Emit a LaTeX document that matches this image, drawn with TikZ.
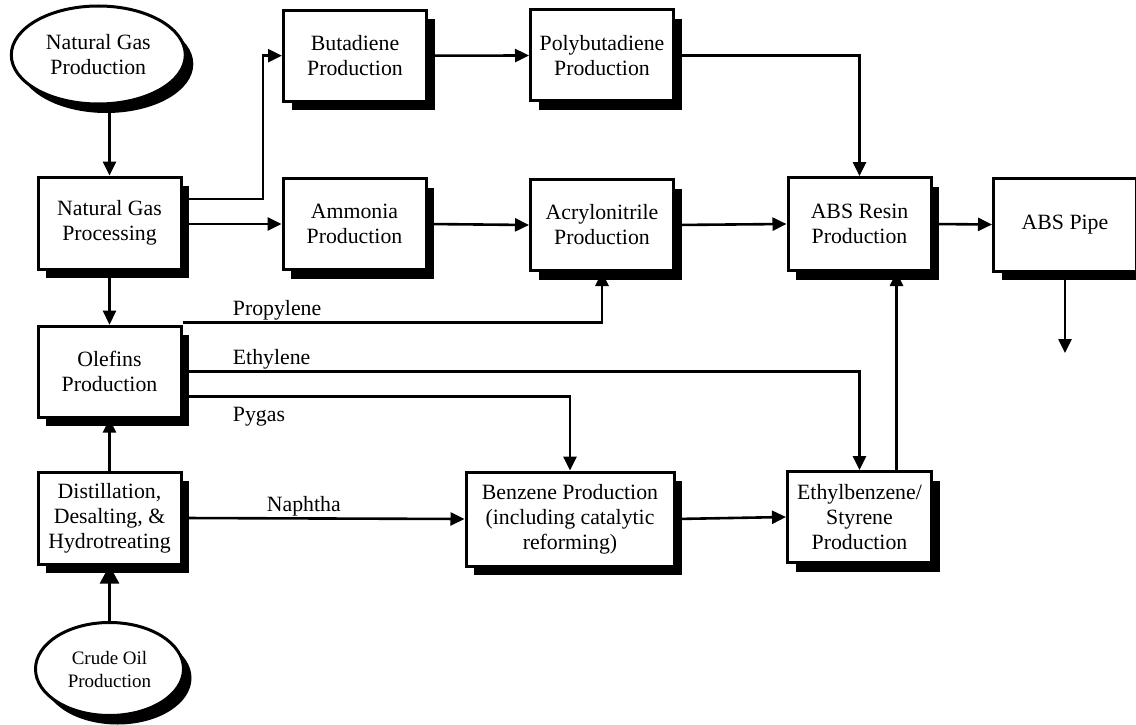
\documentclass[tikz,border=0pt]{standalone}
\usepackage{fontspec}
\setmainfont{Liberation Serif}
\usetikzlibrary{shapes.geometric,shadows,arrows.meta}
\newcommand{\mainf}{\fontsize{21.8}{25}\selectfont}
\newcommand{\smallf}{\fontsize{19}{23}\selectfont}
\begin{document}
\begin{tikzpicture}[x=1pt,y=-1pt,
  shad/.style={drop shadow={shadow xshift=8pt, shadow yshift=-9pt, opacity=1, fill=black}},
  box/.style={draw, line width=3pt, fill=white, minimum width=143pt, minimum height=92pt,
    inner sep=2pt, align=center, font=\mainf, shad},
  oval/.style={ellipse, draw, line width=3pt, fill=white, inner sep=0pt, align=center, shad},
  lbl/.style={font=\mainf, inner sep=0pt, anchor=base west},
  arr/.style={line width=2.6pt, -{Triangle[length=14pt,width=13pt]}},
  bigarr/.style={line width=2.6pt, -{Triangle[length=18pt,width=19pt]}}]
\fill[white] (0,0) rectangle (1136,725);
\useasboundingbox (0,0) rectangle (1136,725);
\clip (0,0) rectangle (1136,725);

% nodes
\node[oval, minimum width=174pt, minimum height=98pt, font=\mainf] (ngprod) at (98.3,55) {Natural Gas\\Production};
\node[box] (ngp) at (109.5,223) {Natural Gas\\Processing};
\node[box, minimum height=91pt] (olef) at (109.5,371.7) {Olefins\\Production};
\node[box] (dist) at (109.5,518) {Distillation,\\Desalting, \&\\Hydrotreating};
\node[oval, minimum width=148pt, minimum height=93pt, font=\smallf] (crude) at (109.5,669) {Crude Oil\\Production};

\node[box, minimum height=91pt] (buta) at (355,55.7) {Butadiene\\Production};
\node[box, minimum height=91pt] (poly) at (602,55.5) {Polybutadiene\\Production};
\node[box, minimum height=91pt] (amm) at (354.5,224) {Ammonia\\Production};
\node[box, minimum height=91pt] (acry) at (602,225) {Acrylonitrile\\Production};
\node[box, minimum height=93pt] (absr) at (859.5,224) {ABS Resin\\Production};
\node[box, minimum height=93pt] (pipe) at (1065,224.5) {ABS Pipe};
\node[box, minimum width=208pt, minimum height=94pt] (benz) at (570,519) {Benzene Production\\(including catalytic\\reforming)};
\node[box, minimum width=144pt, minimum height=91pt] (ethyl) at (859.5,517) {Ethylbenzene/\\Styrene\\Production};

% labels
\node[lbl] (lprop) at (232.7,315) {Propylene};
\node[lbl] (leth) at (232.7,364) {Ethylene};
\node[lbl] (lpyg) at (232.7,421) {Pygas};
\node[lbl] (lnap) at (266.7,511) {Naphtha};

\coordinate (pipeout) at (1065,353);

% connectors
\draw[arr] (ngprod.south -| ngp.north) -- (ngp.north);
\draw[arr] ([yshift=24pt]ngp.east) -- ++(80.5,0) |- (buta.west);
\draw[arr] (ngp.east |- amm.west) -- (amm.west);
\draw[arr] (buta.east) -- (poly.west);
\draw[arr] (amm.east) -- (acry.west);
\draw[arr] (poly.east) -| (absr.north);
\draw[arr] (acry.east) -- (absr.west);
\draw[arr] (absr.east) -- (pipe.west);
\draw[arr] (pipe.south) -- (pipeout);
\draw[arr] (ngp.south) -- (olef.north);
\draw[arr] (dist.north) -- (olef.south);
\draw[bigarr] (crude.north) -- (dist.south);
\draw[arr] ([yshift=2pt]olef.north east) -| (acry.south);
\draw[arr] (olef.east) -| (ethyl.north);
\draw[arr] ([yshift=-25pt]olef.east) -| (benz.north);
\draw[arr] (dist.east) -- (benz.west);
\draw[arr] (benz.east) -- (ethyl.west);
\draw[arr] ([xshift=37pt]ethyl.north) -- ([xshift=37pt]absr.south);
\end{tikzpicture}
\end{document}
